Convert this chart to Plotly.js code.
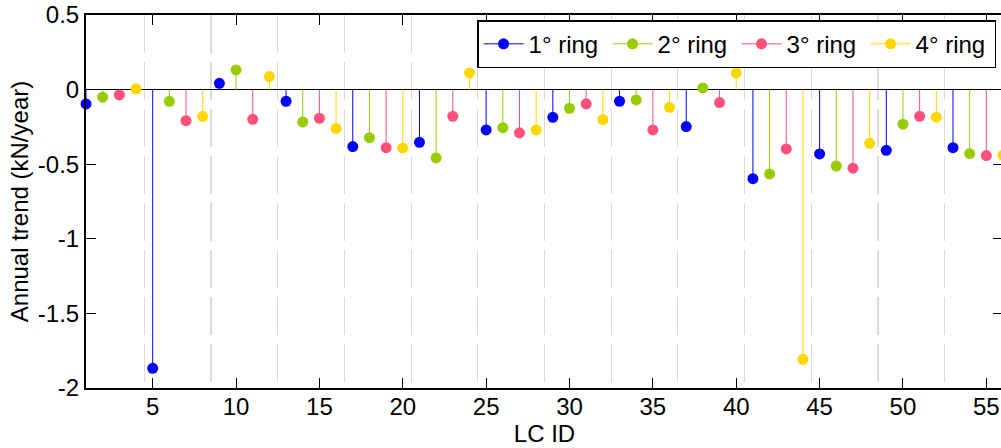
<!DOCTYPE html>
<html>
<head>
<meta charset="utf-8">
<script src="https://cdn.plot.ly/plotly-3.0.1.min.js"></script>
<style>
  html, body { margin: 0; padding: 0; overflow: hidden; background: #fff; }
  #chart { width: 1010px; height: 448px; }
</style>
</head>
<body>
<div id="chart"></div>
<script>
// ---- data ----
const ring1Ids = [1, 5, 9, 13, 17, 21, 25, 29, 33, 37, 41, 45, 49, 53];
const ring1Vals = [-0.096, -1.868, 0.042, -0.078, -0.382, -0.353, -0.270, -0.186, -0.078, -0.248, -0.597, -0.431, -0.407, -0.389];

const ring2Ids = [2, 6, 10, 14, 18, 22, 26, 30, 34, 38, 42, 46, 50, 54];
const ring2Vals = [-0.051, -0.078, 0.132, -0.217, -0.322, -0.458, -0.255, -0.125, -0.069, 0.011, -0.565, -0.512, -0.232, -0.429];

const ring3Ids = [3, 7, 11, 15, 19, 23, 27, 31, 35, 39, 43, 47, 51, 55];
const ring3Vals = [-0.036, -0.208, -0.199, -0.192, -0.389, -0.179, -0.290, -0.095, -0.270, -0.087, -0.398, -0.527, -0.179, -0.442];

const ring4Ids = [4, 8, 12, 16, 20, 24, 28, 32, 36, 40, 44, 48, 52, 56];
const ring4Vals = [0.005, -0.179, 0.087, -0.260, -0.391, 0.112, -0.270, -0.201, -0.119, 0.112, -1.808, -0.360, -0.185, -0.440];

const seriesNames = ["1° ring", "2° ring", "3° ring", "4° ring"];
const xTickVals = [5, 10, 15, 20, 25, 30, 35, 40, 45, 50, 55];
const yTickVals = [0.5, 0, -0.5, -1, -1.5, -2];
const yTickText = ["0.5", "0", "-0.5", "-1", "-1.5", "-2"];
const groupBounds = [4.5, 8.5, 12.5, 16.5, 20.5, 24.5, 28.5, 32.5, 36.5, 40.5, 44.5, 48.5, 52.5];

// ---- styling ----
const colors = ["#0000ff", "#99cc00", "#ff4f7b", "#ffd700"];
const FONT = "Liberation Sans, Arial, Helvetica, sans-serif";

// stems: vertical segments from the zero baseline to each value
function stemTrace(name, ids, vals, color) {
  const x = [], y = [];
  ids.forEach((id, i) => { x.push(id, id, null); y.push(0, vals[i], null); });
  return {
    type: "scatter", mode: "lines", name: name, legendgroup: name, showlegend: false,
    x: x, y: y, connectgaps: false, cliponaxis: false,
    line: { color: color, width: 1 }, hoverinfo: "skip"
  };
}
// tips: isolated points (gaps between them), legend shows line + marker
function tipTrace(name, ids, vals, color) {
  const x = [], y = [];
  ids.forEach((id, i) => { x.push(id, null); y.push(vals[i], null); });
  return {
    type: "scatter", mode: "lines+markers", name: name, legendgroup: name,
    x: x, y: y, connectgaps: false, cliponaxis: false, opacity: 1,
    line: { color: color, width: 1 },
    marker: { color: color, size: 11, opacity: 1, line: { width: 0 } },
    hoverinfo: "skip"
  };
}

const rings = [[ring1Ids, ring1Vals], [ring2Ids, ring2Vals], [ring3Ids, ring3Vals], [ring4Ids, ring4Vals]];
const data = [];
rings.forEach((r, k) => data.push(stemTrace(seriesNames[k], r[0], r[1], colors[k])));
rings.forEach((r, k) => data.push(tipTrace(seriesNames[k], r[0], r[1], colors[k])));

const layout = {
  width: 1010, height: 448,
  margin: { l: 86, r: 7, t: 15, b: 60, pad: 0 },
  paper_bgcolor: "#ffffff", plot_bgcolor: "#ffffff",
  font: { family: FONT, size: 24, color: "#000" },
  showlegend: true,
  xaxis: {
    range: [1, 56], tickmode: "array", tickvals: xTickVals,
    ticks: "inside", ticklen: 10, tickwidth: 1, tickcolor: "#000",
    showline: true, linecolor: "#000", linewidth: 2, mirror: "ticks",
    showgrid: false, zeroline: false, ticklabelstandoff: -4,
    tickfont: { family: FONT, size: 24, color: "#000" },
    minor: { tickmode: "array", tickvals: groupBounds, showgrid: true,
             gridcolor: "#dedad3", gridwidth: 1.2, griddash: "38px,9px", ticks: "" },
    title: { text: "LC ID", font: { family: FONT, size: 24, color: "#000" }, standoff: 2 }
  },
  yaxis: {
    range: [-2, 0.5], tickmode: "array", tickvals: yTickVals, ticktext: yTickText,
    ticks: "inside", ticklen: 10, tickwidth: 1, tickcolor: "#000",
    showline: true, linecolor: "#000", linewidth: 2, mirror: "ticks",
    showgrid: false, zeroline: true, zerolinecolor: "#000", zerolinewidth: 1,
    tickfont: { family: FONT, size: 24, color: "#000" },
    title: { text: "Annual trend (kN/year)", font: { family: FONT, size: 24, color: "#000" }, standoff: 2 }
  },
  legend: {
    orientation: "h", x: 0.9924, xanchor: "right", y: 0.986, yanchor: "top",
    bgcolor: "#ffffff", bordercolor: "#000", borderwidth: 1.5,
    font: { family: FONT, size: 24, color: "#000" },
    itemwidth: 40, entrywidth: 74, entrywidthmode: "pixels", traceorder: "normal"
  }
};

Plotly.newPlot("chart", data, layout, { staticPlot: true, displayModeBar: false });
</script>
</body>
</html>
